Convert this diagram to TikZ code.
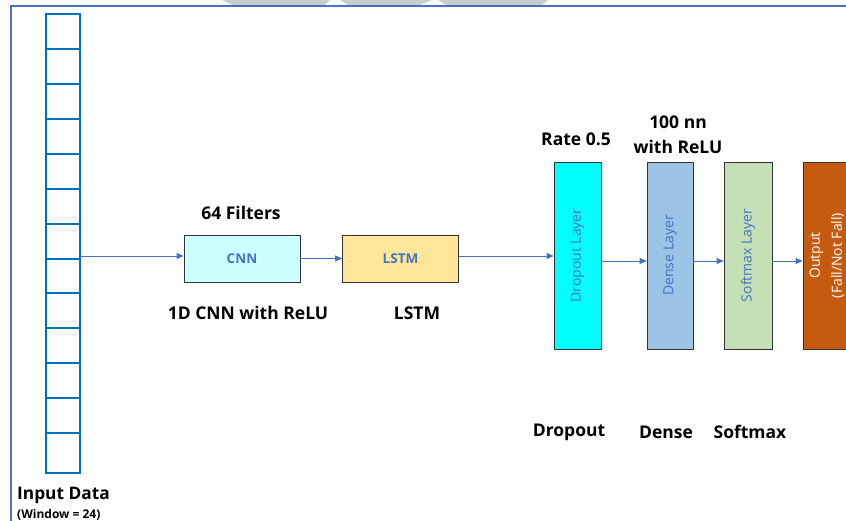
\documentclass[tikz,border=0pt]{standalone}
\usepackage{fontspec}
\setmainfont{Open Sans}
\usetikzlibrary{arrows.meta,calc}
\definecolor{frameblue}{HTML}{4472C4}
\definecolor{cellblue}{HTML}{0070C0}
\definecolor{txtblue}{HTML}{4472C4}
\definecolor{cnnfill}{HTML}{CCFFFF}
\definecolor{lstmfill}{HTML}{FFE699}
\definecolor{dropfill}{HTML}{00FFFF}
\definecolor{densefill}{HTML}{9DC3E6}
\definecolor{softfill}{HTML}{C5E0B4}
\definecolor{outfill}{HTML}{C55A11}
\tikzset{
  hbox/.style={draw=black!80, line width=0.8pt, minimum width=116pt, minimum height=47pt, inner sep=0pt,
    font=\fontsize{13.5}{15}\selectfont\bfseries, text=txtblue},
  vbox/.style={draw=black!80, line width=0.8pt, minimum width=47pt, minimum height=187pt, inner sep=0pt},
  vlabel/.style={rotate=90, font=\fontsize{14}{22}\selectfont, text=txtblue, align=center},
  lbl/.style={font=\fontsize{17.5}{20}\selectfont\bfseries, inner sep=0pt},
  arr/.style={draw=frameblue, line width=0.8pt, -{Triangle[length=7pt,width=6pt]}},
  cell/.style={draw=cellblue, line width=2.2pt}
}
\begin{document}
\begin{tikzpicture}[x=1pt,y=-1pt]
\useasboundingbox (0,0) rectangle (846,521);
\fill[white] (0,0) rectangle (846,521);
% grey fragment at top
\fill[black!20] (222,0) -- (330,0) -- (325,5) -- (232,5) -- cycle;
\fill[black!20] (340,0) -- (432,0) -- (420,5) -- (348,5) -- cycle;
\fill[black!20] (438,0) -- (548,0) -- (542,5) -- (446,5) -- cycle;
% frame
\draw[frameblue, line width=1.5pt] (11,540) -- (11,6) -- (860,6);
% input column
\foreach \a/\b in {14/49,49/84,84/119,119/154,154/189,189/224,224/259,259/293,293/328,328/363,363/398,398/433,433/473}
  \draw[cell] (46,\a) rectangle (80,\b);
\coordinate (inp) at (80,256);
% boxes
\node[hbox, fill=cnnfill] (cnn) at (242,258.5) {CNN};
\node[hbox, fill=lstmfill] (lstm) at (400.5,258.5) {LSTM};
\node[vbox, fill=dropfill] (drop) at (577.5,255.5) {};
\node[vlabel] at (drop.center) {Dropout Layer};
\node[vbox, fill=densefill, minimum width=46pt] (dense) at (670,255.5) {};
\node[vlabel] at (dense.center) {Dense Layer};
\node[vbox, fill=softfill, minimum width=48pt] (soft) at (748,255.5) {};
\node[vlabel] at (soft.center) {Softmax Layer};
\node[vbox, fill=outfill, minimum width=48pt] (out) at (827,255.5) {};
\node[vlabel, text=white] at (out.center) {Output\\(Fall/Not Fall)};
% arrows
\draw[arr] (inp) -- (cnn.west |- inp);
\draw[arr] (cnn.east) -- (lstm.west);
\draw[arr] (lstm.east |- 0,256) -- (drop.west |- 0,256);
\draw[arr] (drop.east |- 0,261) -- (dense.west |- 0,261);
\draw[arr] (dense.east |- 0,261) -- (soft.west |- 0,261);
\draw[arr] (soft.east |- 0,261) -- (out.west |- 0,261);
% labels
\node[lbl] (l64) at (241,213) {64 Filters};
\node[lbl] (l1d) at (248,313) {1D CNN with ReLU};
\node[lbl] (llstm) at (417,313) {LSTM};
\node[lbl] (lrate) at (576,139) {Rate 0.5};
\node[lbl] (l100) at (678,122) {100 nn};
\node[lbl] (lwith) at (678,147) {with ReLU};
\node[lbl] (ldrop) at (569,432) {Dropout};
\node[lbl] (ldense) at (666,432) {Dense};
\node[lbl] (lsoft) at (750,432) {Softmax};
\node[lbl, anchor=west, font=\fontsize{17.3}{20}\selectfont\bfseries] (linput) at (17,495) {Input Data};
\node[font=\fontsize{12}{14}\selectfont\bfseries, anchor=west, inner sep=0pt] (lwin) at (17,515) {(Window = 24)};
\end{tikzpicture}
\end{document}
